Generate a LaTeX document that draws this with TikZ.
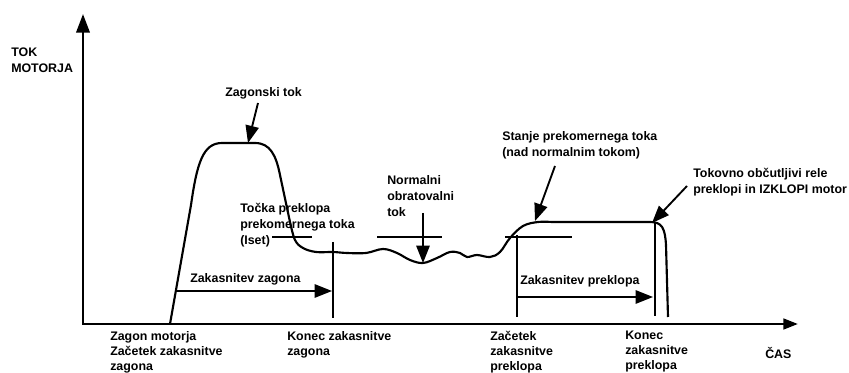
\documentclass[tikz,border=0pt]{standalone}
\usepackage{fontspec}
\setmainfont{Liberation Sans}
\usepackage{tikz}
\usetikzlibrary{arrows.meta,positioning}
\tikzset{txt/.style={font=\bfseries\fontsize{9.3}{12}\selectfont, inner sep=0pt, anchor=north west, align=left}}
\tikzset{axis label/.style={txt, font=\bfseries\fontsize{9.3}{11.3}\selectfont}}
\tikzset{pointer/.style={line width=1.4pt, -{Triangle[length=13pt,width=10pt]}}}
\tikzset{level line/.style={line width=1.4pt}}
\tikzset{axis/.style={line width=2pt, {Triangle[length=14pt,width=10pt]}-{Triangle[length=11pt,width=8pt]}}}

\begin{document}
\begin{tikzpicture}[x=0.75pt,y=-0.75pt]
  \useasboundingbox (0,0) rectangle (849,373);
  % Axes: current up, time to the right.
  \coordinate (ytop) at (83,14);
  \coordinate (origin) at (83,324);
  \coordinate (xend) at (798,324);
  \draw[axis] (ytop) -- (origin) -- (xend);
  \node[txt] (ylab) at (11,48) {TOK\\MOTORJA};
  \node[txt] (xlab) at (765,347) {ČAS};

  % The motor current itself.
  \coordinate (peak) at (248,143);
  \coordinate (dip) at (423,263);
  \coordinate (ovl) at (535,221);
  \coordinate (trip) at (652,223);
  \draw[line width=1.6pt, line join=round]
    (170,324) -- (191,205) .. controls (197,163) and (203,143) .. (222,143)
    -- (255,143) .. controls (270,143) and (276,155) .. (280,175) -- (290,222)
    -- plot[smooth, tension=0.6] coordinates {(290,222) (295,240) (303,248) (316,252)
      (333,252) (347,253) (366,253) (383,249) (397,253) (410,260) (423,263)
      (437,258) (450,252) (460,253) (467,257) (477,255) (490,257) (500,252)
      (510,238) (523,226) (538,222) (552,222)}
    -- (650,222) .. controls (662,222) and (665,228) .. (666,245) -- (668,317);

  % Iset level and the markers of the two delays.
  \draw[level line] (272,237) -- (312,237);
  \draw[level line] (377,237) -- (442,237);
  \draw[level line] (505,237) -- (572,237);
  \draw[level line] (333,242) -- (333,318);
  \draw[level line] (517,235) -- (517,317);
  \draw[level line] (655,223) -- (655,316);

  % Start delay
  \coordinate (zstart) at (177,291);
  \coordinate (zend) at (332,291);
  \draw[pointer] (zstart) -- (zend);
  \node[txt] (zdelay) at (190,273) {Zakasnitev zagona};
  % Trip delay
  \coordinate (pstart) at (517,297);
  \coordinate (pend) at (653,297);
  \draw[pointer] (pstart) -- (pend);
  \node[txt] (pdelay) at (520,275) {Zakasnitev preklopa};

  % Labels pointing at the curve.
  \node[txt] (inrush) at (225,87) {Zagonski tok};
  \coordinate (inrushfrom) at (258,103);
  \draw[pointer] (inrushfrom) -- (peak);

  \node[txt] (iset) at (240,203) {Točka preklopa\\prekomernega toka\\(Iset)};

  \node[txt] (normal) at (387,175) {Normalni\\obratovalni\\tok};
  \coordinate (normalfrom) at (423,213);
  \draw[pointer] (normalfrom) -- (dip);

  \node[txt] (over) at (502,131) {Stanje prekomernega toka\\(nad normalnim tokom)};
  \coordinate (overfrom) at (555,166);
  \draw[pointer] (overfrom) -- (ovl);

  \node[txt] (relay) at (693,168) {Tokovno občutljivi rele\\preklopi in IZKLOPI motor};
  \coordinate (relayfrom) at (687,186);
  \draw[pointer] (relayfrom) -- (trip);

  % Along the time axis.
  \node[axis label] (t1) at (110,331) {Zagon motorja\\Začetek zakasnitve\\zagona};
  \node[axis label] (t2) at (287,331) {Konec zakasnitve\\zagona};
  \node[axis label] (t3) at (490,331) {Začetek\\zakasnitve\\preklopa};
  \node[axis label] (t4) at (625,331) {Konec\\zakasnitve\\preklopa};
\end{tikzpicture}
\end{document}
